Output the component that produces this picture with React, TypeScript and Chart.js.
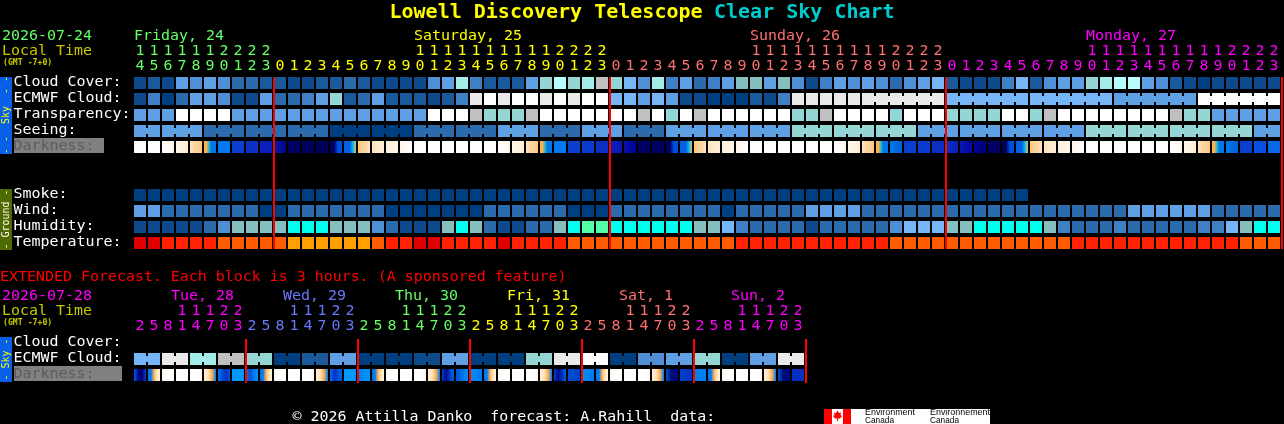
import { useEffect, useRef } from 'react'
import { Chart, registerables } from 'chart.js'

Chart.register(...registerables)

// sky colour levels, dark (good) to white (bad), plus the humidity extremes
const levels = [
  '#003f7f', '#0c4a8c', '#1a5a9c', '#2c6bab', '#3f7fc4', '#4f8fd6', '#5f9fe3', '#75b5f8',
  '#84c0c0', '#94d6d4', '#a4ecea', '#b8fcfc', '#c0c0c0', '#eaeaea', '#ffffff', '#00ffee', '#55ffaa',
]
const tempColors = ['#e00000', '#ff2200', '#ff5c00', '#ffa000']

const mainHours = [
  14, 15, 16, 17, 18, 19, 20, 21, 22, 23,
  0, 1, 2, 3, 4, 5, 6, 7, 8, 9, 10, 11, 12, 13, 14, 15, 16, 17, 18, 19, 20, 21, 22, 23,
  0, 1, 2, 3, 4, 5, 6, 7, 8, 9, 10, 11, 12, 13, 14, 15, 16, 17, 18, 19, 20, 21, 22, 23,
  0, 1, 2, 3, 4, 5, 6, 7, 8, 9, 10, 11, 12, 13, 14, 15, 16, 17, 18, 19, 20, 21, 22, 23,
]
const mainDays = ['Friday, 24', 'Saturday, 25', 'Sunday, 26', 'Monday, 27']
const mainDayColors = ['#66ff66', '#ffff00', '#ff7070', '#ff00ff']
const mainDayStart = [0, 10, 34, 58]
const mainDayLabelCol = [0, 20, 44, 68]
const midnights = [10, 34, 58, 82]

const skyLabels = ['Cloud Cover:', 'ECMWF Cloud:', 'Transparency:', 'Seeing:']
const groundLabels = ['Smoke:', 'Wind:', 'Humidity:', 'Temperature:']

const cloudCover = [
  1, 2, 1, 6, 5, 6, 5, 3, 3, 2,
  2, 1, 1, 2, 2, 3, 2, 1, 1, 1, 1, 5, 6, 10, 4, 2, 2, 2, 6, 9, 11, 9, 10, 12,
  9, 7, 5, 10, 4, 6, 3, 4, 6, 8, 8, 6, 8, 5, 1, 4, 6, 5, 6, 5, 3, 5, 6, 7,
  2, 1, 1, 1, 4, 7, 2, 5, 6, 6, 9, 10, 11, 11, 6, 5, 2, 1, 0, 1, 1, 1, 1, 1,
]
const ecmwfCloud = [
  1, 4, 0, 3, 6, 6, 5, 1, 1, 6,
  3, 3, 4, 6, 9, 2, 3, 6, 2, 2, 2, 1, 2, 4, 13, 14, 13, 14, 14, 13, 14, 13, 14, 14,
  7, 7, 6, 7, 6, 1, 1, 0, 0, 0, 2, 1, 4, 13, 13, 13, 13, 13, 13, 13, 13, 13, 13, 13,
  7, 7, 7, 7, 7, 7, 7, 7, 7, 7, 7, 7, 6, 6, 6, 6, 6, 6, 14, 14, 14, 14, 14, 14,
]
const ecmwfRuns = [[52, 57], [58, 63], [64, 69], [70, 75], [76, 81]]
const transparency = [
  6, 6, 6, 14, 14, 14, 14, 6, 6, 6,
  6, 6, 6, 6, 6, 6, 6, 6, 6, 6, 6, 14, 14, 14, 12, 9, 9, 9, 12, 14, 14, 14, 14, 14,
  14, 14, 12, 14, 9, 14, 12, 14, 14, 14, 14, 14, 14, 9, 9, 12, 14, 14, 14, 14, 9, 14, 14, 14,
  9, 9, 9, 9, 14, 14, 9, 12, 14, 14, 14, 14, 14, 14, 14, 14, 12, 9, 9, 6, 6, 6, 6, 6,
]
const seeing = [
  6, 6, 6, 6, 6, 3, 3, 3, 3, 3,
  3, 3, 3, 3, 0, 0, 0, 0, 0, 0, 3, 3, 3, 3, 3, 3, 6, 6, 6, 3, 3, 3, 6, 6,
  6, 3, 3, 3, 6, 6, 6, 6, 6, 6, 6, 6, 6, 9, 9, 9, 9, 9, 9, 9, 9, 9, 6, 6,
  6, 6, 6, 6, 6, 6, 6, 6, 6, 6, 9, 9, 9, 9, 9, 9, 9, 9, 9, 9, 9, 9, 6, 6,
]
const seeingRuns = [
  [0, 1], [2, 4], [5, 7], [8, 10], [11, 13], [14, 16], [17, 19], [20, 22], [23, 25], [26, 28],
  [29, 31], [32, 34], [35, 37], [38, 40], [41, 43], [44, 46], [47, 49], [50, 52], [53, 55],
  [56, 58], [59, 61], [62, 64], [65, 67], [68, 70], [71, 73], [74, 76], [77, 79], [80, 81],
]
const smoke = [
  0, 0, 0, 0, 0, 0, 0, 0, 0, 0, 0, 0, 0, 0, 0, 0, 0, 0, 0, 0, 0, 0, 0, 0, 0, 0, 0, 0, 0, 0, 0, 0,
  0, 0, 0, 0, 0, 0, 0, 0, 0, 0, 0, 0, 0, 0, 0, 0, 0, 0, 0, 0, 0, 0, 0, 0, 0, 0, 0, 0, 0, 0, 0, 0,
]
const wind = [
  6, 6, 3, 3, 3, 3, 3, 3, 3, 0,
  0, 3, 3, 3, 3, 3, 3, 3, 0, 0, 0, 0, 0, 0, 0, 3, 3, 3, 3, 3, 3, 0, 0, 0,
  3, 3, 3, 3, 3, 3, 3, 3, 0, 3, 3, 3, 3, 3, 6, 6, 6, 6, 3, 3, 3, 3, 3, 3,
  3, 3, 3, 3, 3, 3, 3, 3, 3, 3, 3, 3, 3, 6, 6, 6, 6, 6, 6, 3, 3, 3, 3, 3,
]
const humidity = [
  1, 1, 1, 1, 1, 3, 5, 8, 8, 8,
  8, 15, 15, 15, 8, 8, 8, 5, 3, 1, 1, 1, 8, 15, 8, 3, 1, 1, 3, 3, 8, 15, 16, 16,
  15, 15, 15, 15, 15, 15, 8, 8, 7, 4, 3, 3, 3, 3, 1, 3, 3, 3, 3, 3, 5, 7, 7, 7,
  8, 8, 15, 15, 15, 15, 15, 8, 4, 3, 3, 3, 4, 3, 3, 3, 3, 3, 4, 4, 7, 8, 15, 15,
]
const temperature = [
  0, 0, 1, 1, 1, 1, 2, 2, 2, 2,
  2, 3, 3, 3, 3, 3, 3, 2, 1, 1, 0, 0, 1, 1, 1, 1, 0, 1, 1, 1, 1, 2, 2, 2,
  2, 2, 2, 2, 2, 2, 2, 2, 2, 1, 1, 1, 1, 1, 1, 1, 1, 1, 1, 1, 2, 2, 2, 2,
  2, 2, 2, 2, 2, 2, 2, 2, 2, 1, 1, 1, 1, 1, 1, 1, 1, 1, 1, 1, 1, 2, 2, 2,
]

// darkness shades: each cell lists the colours it fades through, left to right
const W = '#ffffff'
const C1 = '#fff6ea'
const C2 = '#ffeed8'
const C3 = '#ffe4bc'
const O = '#ffc47c'
const O2 = '#ffb050'
const T = '#30c0b0'
const B0 = '#0078f0'
const B1 = '#0a40d0'
const B2 = '#0a30c4'
const B3 = '#0a20b8'
const B4 = '#0060e8'
const N = '#000064'
const darkness = [
  [W], [W], [W, C1], [C1, C2], [C3, O], [O2, O2, T, B0, B0, B0], [B0], [B1], [B2], [B3],
  ['#0a18a8', '#05058c'], [N], ['#000060'], ['#000058'], [N, N, '#0050e0', '#0050e0'], [B4, B4, B4, '#00c0f0', O2],
  [O, C3], [C3, C2], [C2, C1], [C1, W], [W], [W], [W], [W], [W], [W],
  [W, C1], [C1, C2], [C3, O], [O2, O2, T, B0, B0, B0], [B0], [B1], ['#0a3ad0'], [B2],
  [B3, '#0a18b0'], ['#0a10a8', '#00009c'], [N], ['#000060'], [N, N, '#0050e0', '#0050e0'], [B4, B4, B4, '#00c0f0', O2],
  [O, C3], [C3, C2], [C2, C1], [C1, W], [W], [W], [W], [W], [W], [W],
  [W, C1], [C1, C2], [C3, O], [O2, O2, T, B0, B0, B0], [B0, '#0060d0'], [B1], ['#0a3ad0'], [B2],
  [B2, B3], ['#0818b0', '#0008a0'], ['#0000a0', '#000070'], [N], ['#000050', N, '#0050e0', '#0050e0'], [B4, B4, B4, '#00c0f0', O2],
  [O, C3], [C3, C2], [C2, C1], [C1, W], [W], [W], [W], [W], [W], [W],
  [W, C1], [C1, C2], [C3, O], [O2, O2, T, B0, B0, B0], [B0, '#0060d0'], [B1], ['#0850e0'], ['#0868e8'],
]

const extHours = [2, 5, 8, 11, 14, 17, 20, 23, 2, 5, 8, 11, 14, 17, 20, 23, 2, 5, 8, 11, 14, 17, 20, 23, 2, 5, 8, 11, 14, 17, 20, 23, 2, 5, 8, 11, 14, 17, 20, 23, 2, 5, 8, 11, 14, 17, 20, 23]
const extDays = ['Tue, 28', 'Wed, 29', 'Thu, 30', 'Fri, 31', 'Sat, 1', 'Sun, 2']
const extDayColors = ['#ff00ff', '#6a78ff', '#66ff66', '#ffff00', '#ff7070', '#ff00ff']
const extMidnights = [8, 16, 24, 32, 40, 48]
const extEcmwf = [
  7, 7, 13, 13, 10, 10, 12, 12, 9, 9, 0, 0, 2, 2, 6, 6,
  0, 0, 0, 0, 1, 1, 6, 6, 0, 0, 0, 0, 9, 9, 13, 13,
  14, 14, 0, 0, 5, 5, 6, 6, 9, 9, 0, 0, 6, 6, 13, 13,
]
const extRuns = [
  [0, 1], [2, 3], [4, 5], [6, 7], [8, 9], [10, 11], [12, 13], [14, 15], [16, 17], [18, 19], [20, 21], [22, 23],
  [24, 25], [26, 27], [28, 29], [30, 31], [32, 33], [34, 35], [36, 37], [38, 39], [40, 41], [42, 43], [44, 45], [46, 47],
]
const BD = '#0098ff'
const extDarkness = [
  ['#0060e0', '#000a90', '#000070', '#0040c8'], [B0, B0, O2, C3, C2], [C1, W, W], [W], [W, W, C1], [C2, C3, O2, B0], [B0, '#0050d0', B2, '#0058d8'], [BD],
  [B0, '#0050d0', B0, BD], [B0, B0, O2, C3, C2], [C1, W, W], [W], [W, W, C1], [C2, C3, O2, B0], [B0, B2, '#0050d0', B4], [BD],
  ['#0080f0', BD], [B0, B0, O2, C3, C2], [C1, W, W], [W], [W, W, C1], [C2, C3, O2, B0], ['#0040c0', '#000a90', '#0040c0', B4], ['#0050d8', '#0090f8'],
  ['#0090f8', B0], [B0, B0, O2, C3, C2], [C1, W, W], [W], [W, W, C1], [C2, C3, O2, B0], ['#0040c0', '#000a90', '#0030b0', B4], ['#0050d0', '#0040c8'],
  ['#0090f8', B0], [B0, B0, O2, C3, C2], [C1, W, W], [W], [W, W, C1], [C2, C3, O2, B0], ['#0050d0', '#000a70', '#000a90'], ['#0040c8', B2],
  ['#0080f0', '#0080f0'], [B0, B0, O2, C3, C2], [C1, W, W], [W], [W, W, C1], [C2, C3, O2, B0], ['#0050d0', '#000a70', '#000a90'], ['#0030c0', B2],
]

const PITCH = 14
const CELL = 12 / PITCH
const ROW = 16
const FONT = '"DejaVu Sans Mono"'

function cells(values: number[], row: number, colors: string[]) {
  return {
    indexAxis: 'y',
    data: values.map((_, i) => ({ x: [i, i + CELL], y: row })),
    backgroundColor: values.map(v => colors[v]),
    maxBarThickness: 12,
  }
}

// the thin bridge that joins neighbouring blocks of one forecast run
function bridges(values: number[], row: number, runs: number[][]) {
  const cols: number[] = []
  runs.forEach(([a, b]) => { for (let i = a; i < b; i++) cols.push(i) })
  return {
    indexAxis: 'y',
    data: cols.map(i => ({ x: [i + CELL, i + 1], y: row })),
    backgroundColor: cols.map(i => levels[values[i]]),
    maxBarThickness: 6,
  }
}

function shaded(stops: string[][], row: number) {
  return {
    indexAxis: 'y',
    data: stops.map((_, i) => ({ x: [i, i + CELL], y: row })),
    maxBarThickness: 12,
    backgroundColor: (c: any) => {
      const s = stops[c.dataIndex]
      const xs = c.chart.scales.x
      const x0 = xs.getPixelForValue(c.dataIndex)
      const x1 = xs.getPixelForValue(c.dataIndex + CELL)
      // options are also resolved once before the scales have been fitted
      if (!s || !Number.isFinite(x0) || !Number.isFinite(x1)) return '#000'
      const g = c.chart.ctx.createLinearGradient(x0, 0, x1, 0)
      s.forEach((col, i) => g.addColorStop(s.length > 1 ? i / (s.length - 1) : 0, col))
      return g
    },
  }
}

function redLine(col: number, from: number, to: number) {
  return {
    type: 'line',
    order: 0,
    data: [{ x: col, y: from }, { x: col, y: to }],
    borderColor: '#ff0000',
    borderWidth: 2,
    pointRadius: 0,
  }
}

const chartText = {
  id: 'chartText',
  beforeDraw(chart: any) {
    const { ctx, width, height } = chart
    ctx.save()
    ctx.fillStyle = '#000000'
    ctx.fillRect(0, 0, width, height)
    ctx.restore()
  },
  afterDraw(chart: any) {
    const { ctx } = chart
    const xs = chart.scales.x
    const ys = chart.scales.y
    const text = (s: string, x: number, y: number, color: string, font = `14.95px ${FONT}`, align: CanvasTextAlign = 'left') => {
      ctx.font = font
      ctx.fillStyle = color
      ctx.textAlign = align
      ctx.fillText(s, x, y)
    }
    const rotated = (s: string, x: number, y: number, color: string) => {
      ctx.save()
      ctx.translate(x, y)
      ctx.rotate(-Math.PI / 2)
      text(s, 0, 0, color, `10px ${FONT}`, 'center')
      ctx.restore()
    }
    const box = (x: number, y: number, w: number, h: number, color: string) => {
      ctx.fillStyle = color
      ctx.fillRect(x, y, w, h)
    }
    const digit = (h: number, col: number, color: string, tensY: number, onesY: number) => {
      const x = xs.getPixelForValue(col) + 6
      if (h >= 10) text(String(Math.floor(h / 10)), x, tensY, color, undefined, 'center')
      text(String(h % 10), x, onesY, color, undefined, 'center')
    }

    ctx.save()
    ctx.textBaseline = 'middle'

    text('Lowell Discovery Telescope', 389.5, 12.5, '#ffff00', `bold 20px ${FONT}`)
    text('Clear Sky Chart', 702 + 12, 12.5, '#00ccd0', `bold 20px ${FONT}`)

    // main header
    text('2026-07-24', 2, 36, '#66ff66')
    text('Local Time', 2, 51.5, '#c8c800')
    text('(GMT -7+0)', 3, 63, '#c8c800', `bold 8.2px ${FONT}`)
    mainDays.forEach((d, i) => text(d, xs.getPixelForValue(mainDayLabelCol[i]), 36, mainDayColors[i]))
    mainHours.forEach((h, col) => {
      let day = 0
      mainDayStart.forEach((s, i) => { if (col >= s) day = i })
      digit(h, col, mainDayColors[day], 51.5, 66.5)
    })

    // side bars and row names
    box(0, 77, 12, 77, '#0860e8')
    rotated('- -  Sky  - -', 6.5, 115, '#ffff00')
    box(0, 189, 12, 61, '#4f6a00')
    rotated('- Ground -', 6.5, 219.5, '#ffffff')
    skyLabels.forEach((l, i) => text(l, 13.5, ys.getPixelForValue(i) - 0.5, '#ffffff'))
    box(14, 138, 90, 15, '#808080')
    text('Darkness:', 13.5, ys.getPixelForValue(4) - 0.5, '#5c5c5c')
    groundLabels.forEach((l, i) => text(l, 13.5, ys.getPixelForValue(7 + i) - 0.5, '#ffffff'))

    // extended forecast
    text('EXTENDED Forecast. Each block is 3 hours. (A sponsored feature)', 0, 277.5, '#ff0000')
    text('2026-07-28', 2, 296, '#ff00ff')
    text('Local Time', 2, 311.5, '#c8c800')
    text('(GMT -7+0)', 3, 323, '#c8c800', `bold 8.2px ${FONT}`)
    extDays.forEach((d, i) => text(d, xs.getPixelForValue(2.64 + i * 8), 296, extDayColors[i]))
    extHours.forEach((h, col) => digit(h, col, extDayColors[Math.floor(col / 8)], 311.5, 326.5))
    box(0, 337, 12, 45, '#0860e8')
    rotated('- Sky -', 6.5, 359.5, '#ffff00')
    text('Cloud Cover:', 13.5, ys.getPixelForValue(16.25) - 0.5, '#ffffff')
    text('ECMWF Cloud:', 13.5, ys.getPixelForValue(17.25) - 0.5, '#ffffff')
    box(14, 366, 108, 15, '#808080')
    text('Darkness:', 13.5, ys.getPixelForValue(18.25) - 0.5, '#5c5c5c')

    // footer and logo
    text('© 2026 Attilla Danko  forecast: A.Rahill  data:', 292.5, 417, '#ffffff')
    box(824, 409, 166, 15, '#ffffff')
    box(824, 409, 8, 15, '#ff0000')
    box(843, 409, 8, 15, '#ff0000')
    ctx.fillStyle = '#ff0000'
    ctx.beginPath()
    ;[[837.5, 410.5], [839, 413], [841, 412.5], [840.5, 415], [842, 416], [840, 418.5], [838, 418.5], [838, 421], [837, 421], [837, 418.5], [835, 418.5], [833, 416], [834.5, 415], [834, 412.5], [836, 413]]
      .forEach(([x, y], i) => (i ? ctx.lineTo(x, y) : ctx.moveTo(x, y)))
    ctx.closePath()
    ctx.fill()
    const small = '9px "Liberation Sans"'
    ctx.font = small
    ctx.fillStyle = '#000000'
    ctx.textAlign = 'left'
    ctx.fillText('Environment', 865, 413, 50)
    ctx.fillText('Canada', 865, 420.5, 29)
    ctx.fillText('Environnement', 930, 413, 60)
    ctx.fillText('Canada', 930, 420.5, 29)
    ctx.restore()
  },
}

export default function App() {
  const canvasRef = useRef<HTMLCanvasElement>(null)

  useEffect(() => {
    if (!canvasRef.current) return
    const sets: any[] = [
      cells(cloudCover, 0, levels),
      cells(ecmwfCloud, 1, levels),
      bridges(ecmwfCloud, 1, ecmwfRuns),
      cells(transparency, 2, levels),
      cells(seeing, 3, levels),
      bridges(seeing, 3, seeingRuns),
      shaded(darkness, 4),
      cells(smoke, 7, levels),
      cells(wind, 8, levels),
      cells(humidity, 9, levels),
      cells(temperature, 10, tempColors),
      cells(extEcmwf, 17.25, levels),
      bridges(extEcmwf, 17.25, extRuns),
      shaded(extDarkness, 18.25),
    ].map(d => ({ ...d, type: 'bar', order: 1, grouped: false, barPercentage: 1, categoryPercentage: 1, borderWidth: 0, inflateAmount: 0 }))
    midnights.forEach(c => sets.push(redLine(c, -0.375, 10.375)))
    extMidnights.forEach(c => sets.push(redLine(c, 16, 18.75)))

    const chart = new Chart(canvasRef.current, {
      data: { datasets: sets },
      plugins: [chartText],
      options: {
        responsive: false,
        animation: false,
        devicePixelRatio: 1,
        events: [],
        layout: { padding: 0 },
        plugins: { legend: { display: false }, tooltip: { enabled: false } },
        scales: {
          // one unit of x is one block, one unit of y is one row
          x: { type: 'linear', display: false, offset: false, min: -134 / PITCH, max: (1284 - 134) / PITCH },
          y: { type: 'linear', display: false, offset: false, reverse: true, min: -83 / ROW, max: (424 - 83) / ROW },
        },
      },
    } as any)

    return () => { chart.destroy() }
  }, [])

  return (
    <div style={{ position: 'fixed', left: 0, top: 0, width: 1284, height: 424, background: '#000' }}>
      <canvas ref={canvasRef} width={1284} height={424} style={{ display: 'block' }} />
    </div>
  )
}
